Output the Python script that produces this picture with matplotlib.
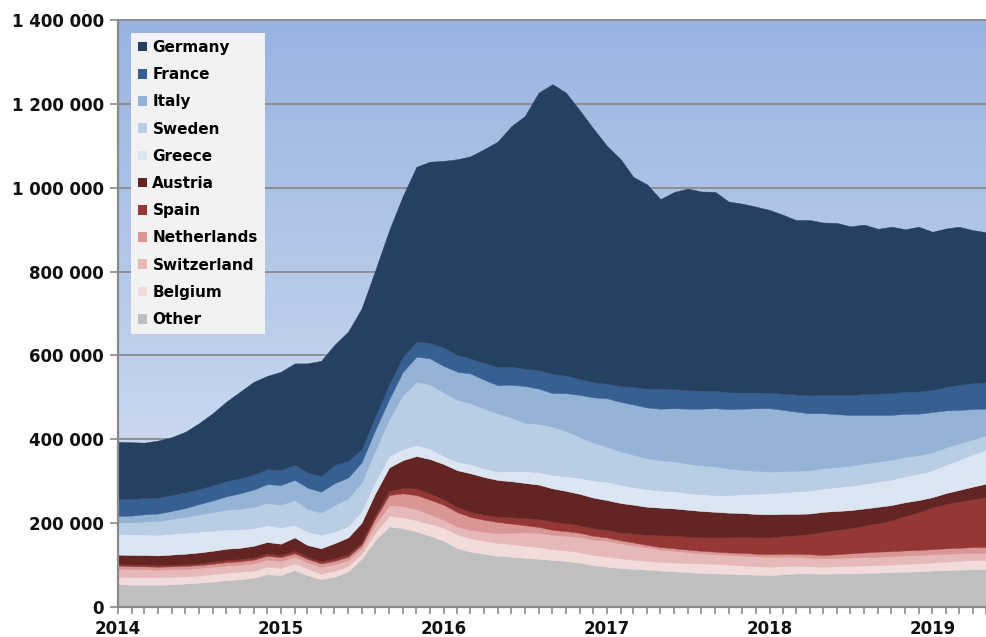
import numpy as np
import pandas as pd
import matplotlib
matplotlib.use("Agg")
from matplotlib import pyplot as plt
from matplotlib.patches import Patch
from matplotlib.colors import LinearSegmentedColormap
import matplotlib.dates as mdates

# monthly, Jan 2014 .. May 2019, values in thousands
dates = pd.date_range("2014-01-01", periods=65, freq="MS")

other = [55, 53, 53, 53, 54, 56, 58, 60, 64, 66, 70, 78,
         76, 88, 76, 66, 72, 85, 115, 160, 192, 188, 180, 170,
         158, 140, 132, 127, 122, 120, 117, 115, 112, 110, 106, 100,
         96, 93, 91, 89, 87, 85, 83, 81, 80, 79, 78, 77,
         76, 78, 80, 80, 79, 80, 80, 81, 82, 83, 84, 85,
         87, 88, 89, 90, 90]
belgium = [17, 18, 18, 18, 18, 17, 17, 18, 18, 18, 17, 18,
           17, 16, 16, 13, 14, 13, 12, 18, 25, 26, 27, 29,
           31, 33, 32, 31, 31, 30, 29, 28, 26, 25, 25, 24,
           24, 23, 22, 21, 20, 21, 22, 23, 23, 22, 21, 20,
           20, 19, 18, 17, 17, 17, 18, 18, 18, 18, 19, 19,
           19, 20, 21, 22, 22]
switzerland = [19, 19, 19, 18, 18, 18, 18, 18, 17, 17, 17, 17,
               17, 16, 15, 17, 16, 14, 13, 20, 26, 27, 26, 22,
               19, 19, 20, 21, 23, 27, 32, 34, 34, 35, 36, 37,
               38, 36, 34, 32, 30, 28, 26, 24, 23, 23, 24, 24,
               24, 23, 22, 21, 20, 20, 20, 20, 20, 20, 20, 20,
               20, 19, 18, 17, 17]
netherlands = [8, 7, 7, 7, 7, 7, 7, 7, 8, 8, 9, 9,
               9, 8, 8, 8, 8, 8, 8, 14, 24, 30, 34, 35,
               36, 34, 31, 29, 27, 22, 17, 14, 12, 11, 10, 9,
               8, 7, 7, 6, 6, 6, 6, 6, 6, 6, 6, 6,
               6, 7, 7, 8, 8, 9, 10, 11, 12, 12, 12, 12,
               12, 13, 13, 14, 14]
spain = [4, 4, 4, 4, 4, 4, 4, 5, 5, 5, 5, 5,
         5, 6, 5, 5, 6, 6, 6, 8, 10, 13, 16, 15,
         13, 12, 12, 12, 12, 15, 17, 19, 20, 19, 18, 18,
         18, 19, 21, 24, 28, 30, 31, 32, 34, 36, 38, 39,
         40, 42, 44, 48, 56, 58, 60, 64, 68, 74, 82, 90,
         100, 106, 110, 114, 119]
austria = [22, 23, 23, 23, 24, 25, 26, 26, 27, 27, 28, 28,
           27, 32, 28, 31, 36, 40, 47, 52, 56, 66, 77, 82,
           84, 88, 92, 90, 88, 86, 84, 82, 79, 77, 75, 73,
           71, 70, 69, 67, 66, 65, 64, 63, 61, 59, 57, 56,
           55, 53, 51, 49, 47, 45, 43, 41, 39, 36, 33, 29,
           24, 26, 28, 30, 32]
greece = [49, 49, 49, 49, 50, 50, 50, 48, 46, 44, 42, 40,
          39, 30, 32, 32, 28, 27, 28, 28, 28, 27, 26, 25,
          19, 20, 22, 21, 20, 24, 28, 30, 32, 35, 38, 41,
          44, 43, 42, 42, 41, 41, 40, 40, 40, 42, 45, 48,
          50, 52, 54, 55, 56, 57, 58, 59, 60, 61, 62, 63,
          64, 68, 72, 77, 81]
sweden = [28, 29, 31, 33, 35, 38, 41, 44, 47, 49, 51, 53,
          54, 59, 55, 53, 63, 66, 68, 75, 87, 128, 151, 153,
          152, 148, 145, 142, 139, 128, 115, 115, 115, 108, 98, 90,
          83, 80, 77, 74, 72, 71, 70, 69, 68, 63, 58, 55,
          52, 50, 49, 48, 48, 48, 48, 48, 48, 47, 46, 44,
          43, 41, 39, 36, 34]
italy = [15, 16, 17, 18, 19, 21, 24, 28, 32, 37, 41, 45,
         47, 48, 50, 50, 52, 50, 48, 48, 48, 55, 60, 62,
         63, 67, 71, 69, 67, 78, 88, 84, 80, 90, 100, 108,
         116, 118, 120, 121, 123, 127, 131, 135, 139, 142, 146, 149,
         151, 146, 141, 136, 131, 126, 121, 116, 111, 107, 103, 99,
         96, 88, 80, 72, 64]
france = [40, 40, 39, 38, 38, 37, 36, 36, 36, 36, 36, 36,
          36, 36, 37, 37, 44, 40, 31, 33, 35, 36, 36, 37,
          44, 40, 36, 40, 44, 43, 42, 44, 46, 42, 38, 36,
          35, 38, 42, 45, 48, 46, 44, 43, 42, 40, 39, 38,
          37, 39, 41, 43, 44, 46, 48, 50, 51, 52, 53, 53,
          53, 56, 60, 62, 63]
germany = [137, 135, 132, 136, 138, 145, 157, 172, 190, 206, 221, 222,
           234, 242, 259, 275, 286, 308, 336, 348, 368, 383, 417, 432,
           445, 467, 482, 510, 537, 574, 602, 662, 691, 675, 641, 606,
           567, 541, 501, 487, 452, 470, 481, 475, 474, 455, 450, 443,
           436, 426, 416, 418, 411, 410, 402, 404, 393, 397, 387, 393,
           377, 378, 377, 365, 358]

names = ["Other", "Belgium", "Switzerland", "Netherlands", "Spain", "Austria",
         "Greece", "Sweden", "Italy", "France", "Germany"]
series = [other, belgium, switzerland, netherlands, spain, austria,
          greece, sweden, italy, france, germany]
colors = ["#BFBFBF", "#F2DCDB", "#E6B9B8", "#D99694", "#953735", "#632523",
          "#DCE6F2", "#B9CDE5", "#95B3D7", "#366092", "#254061"]

W, H = 986, 637
fig = plt.figure(figsize=(W / 100, H / 100), dpi=100)
ax = fig.add_axes([118 / W, 30 / H, 868 / W, 587 / H])

x = mdates.date2num(dates)
ymax = 1400000

# gradient background
cmap = LinearSegmentedColormap.from_list("bg", ["#99B3E1", "#DCE5F5"])
ax.imshow(np.linspace(0, 1, 256)[:, None], cmap=cmap, aspect="auto",
          extent=[x[0], x[-1], 0, ymax], zorder=0, origin="upper")

base = np.zeros(len(dates))
for vals, col in zip(series, colors):
    top = base + np.array(vals) * 1000
    ax.fill_between(x, base, top, facecolor=col, edgecolor=col,
                    linewidth=0.3, zorder=2)
    base = top

ax.set_xlim(x[0], x[-1])
ax.set_ylim(0, ymax)
ax.set_yticks(np.arange(0, ymax + 1, 200000))
ax.yaxis.set_major_formatter(lambda v, p: f"{v:,.0f}".replace(",", " "))
ax.yaxis.grid(True, color="#8A8A8A", linewidth=1.3)
ax.set_axisbelow(True)

ax.xaxis.set_major_locator(mdates.YearLocator())
ax.xaxis.set_minor_locator(mdates.MonthLocator())
ax.xaxis.set_major_formatter(mdates.DateFormatter("%Y"))

ax.spines["right"].set_visible(False)
for s in ["left", "bottom", "top"]:
    ax.spines[s].set_color("#8A8A8A")
    ax.spines[s].set_linewidth(1.6)
ax.spines["top"].set_linewidth(1.3)

ax.tick_params(axis="both", which="both", direction="out", color="#8A8A8A",
               width=1.2, length=5)
ax.tick_params(axis="y", length=6, pad=4)
ax.tick_params(axis="x", pad=4)
for lab in ax.get_xticklabels() + ax.get_yticklabels():
    lab.set_fontsize(12)
    lab.set_fontweight("bold")
    lab.set_color("#111111")

handles = [Patch(facecolor=c, edgecolor="none", label=n)
           for n, c in zip(names[::-1], colors[::-1])]
leg = ax.legend(handles=handles, loc="upper left",
                bbox_to_anchor=(131 / W, 1 - 33 / H), bbox_transform=fig.transFigure,
                borderaxespad=0, frameon=True, fancybox=False,
                facecolor="#F2F2F2", edgecolor="none", framealpha=1,
                prop={"size": 11, "weight": "bold"},
                handlelength=0.6, handleheight=0.6, handletextpad=0.35,
                labelspacing=0.8, borderpad=0.45)

fig.savefig("out.png", dpi=100)
